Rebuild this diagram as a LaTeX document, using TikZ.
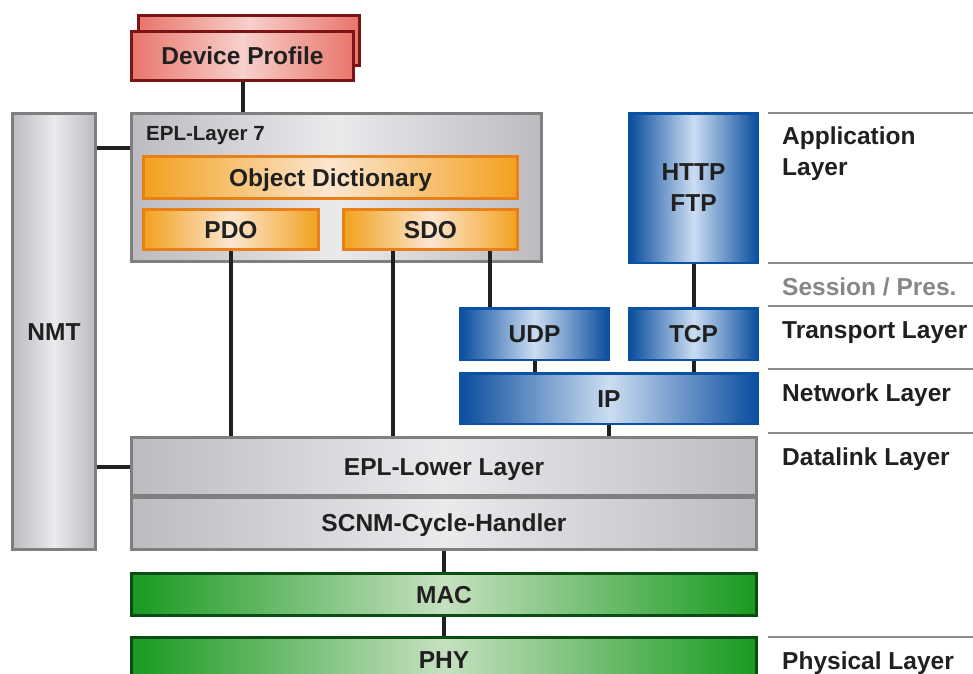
\documentclass[tikz,border=0pt]{standalone}
\usepackage{fontspec}
\setmainfont{Liberation Sans}
\definecolor{ink}{HTML}{202020}
\definecolor{devedge}{HTML}{E8756A}
\definecolor{devmid}{HTML}{F8D0CC}
\definecolor{devline}{HTML}{7B1515}
\definecolor{grayedge}{HTML}{BDBBC0}
\definecolor{graymid}{HTML}{EAE9EC}
\definecolor{grayline}{HTML}{7F7F7F}
\definecolor{oredge}{HTML}{F2A11E}
\definecolor{ormid}{HTML}{FCE6D0}
\definecolor{orline}{HTML}{E8801A}
\definecolor{blueedge}{HTML}{0A4D9E}
\definecolor{bluemid}{HTML}{CCDDF2}
\definecolor{blueline}{HTML}{0A52A3}
\definecolor{greenedge}{HTML}{189A20}
\definecolor{greenmid}{HTML}{C6E0C0}
\definecolor{greenline}{HTML}{0B4D12}
\definecolor{sessgray}{HTML}{878787}
\definecolor{sepgray}{HTML}{8C8C8C}

\begin{document}
\begin{tikzpicture}[x=1pt,y=-1pt,
    every node/.style={inner sep=0pt, text=ink, font=\bfseries\fontsize{24.5}{31}\selectfont},
    capline/.style={text height=17.6pt, text depth=0pt},
    devbox/.style={capline, draw=devline, line width=3pt, left color=devedge, right color=devedge, middle color=devmid},
    graybox/.style={capline, draw=grayline, line width=3pt, left color=grayedge, right color=grayedge, middle color=graymid},
    orbox/.style={capline, draw=orline, line width=3pt, left color=oredge, right color=oredge, middle color=ormid},
    bluebox/.style={draw=blueline, line width=2.5pt, left color=blueedge, right color=blueedge, middle color=bluemid},
    greenbox/.style={capline, draw=greenline, line width=3pt, left color=greenedge, right color=greenedge, middle color=greenmid},
    link/.style={draw=ink, line width=4pt},
    sepline/.style={draw=sepgray, line width=1.5pt},
    lbl/.style={anchor=base west}]
    \clip (0,0) rectangle (973,673);

    % left column
    \node[devbox, minimum width=221, minimum height=50] (DEVB) at (249,40.5) {};
    \node[devbox, minimum width=222, minimum height=49] (DEV) at (242.5,55.5) {Device Profile};
    \node[graybox, minimum width=410, minimum height=148] (L7) at (336.5,187.5) {};
    \node[anchor=base west, font=\bfseries\fontsize{20.5}{24}\selectfont] (L7T) at (146,140) {EPL-Layer 7};
    \node[orbox, minimum width=374, minimum height=42] (OD) at (330.5,177.5) {Object Dictionary};
    \node[orbox, minimum width=175, minimum height=40] (PDO) at (231,229.5) {PDO};
    \node[orbox, minimum width=174, minimum height=40] (SDO) at (430.5,229.5) {SDO};
    \node[graybox, minimum width=83, minimum height=436] (NMT) at (54,331.5) {NMT};

    % IP stack
    \node[bluebox, minimum width=128.5, minimum height=149.5, align=center] (HTTP) at (693.5,188) {HTTP\\FTP};
    \node[bluebox, capline, minimum width=148.5, minimum height=51.5] (UDP) at (534.5,334) {UDP};
    \node[bluebox, capline, minimum width=128.5, minimum height=51.5] (TCP) at (693.5,334) {TCP};
    \node[bluebox, capline, minimum width=297.5, minimum height=50.5] (IP) at (609,398.5) {IP};

    % lower layers
    \node[graybox, minimum width=625, minimum height=58] (LOW) at (444,466.5) {EPL-Lower Layer};
    \node[graybox, minimum width=625, minimum height=52] (SCNM) at (444,523) {SCNM-Cycle-Handler};
    \node[greenbox, minimum width=625, minimum height=42] (MAC) at (444,594.5) {MAC};
    \node[greenbox, minimum width=625, minimum height=46] (PHY) at (444,660) {PHY};

    \coordinate (L7N) at ([yshift=-36pt]L7.north west);
    \coordinate (SDOL) at ([xshift=-37.5pt]SDO.south);
    \coordinate (SDOR) at ([xshift=59.5pt]SDO.south);

    \draw[link] (DEV.south) -- (DEV.south |- L7.north);
    \draw[link] (L7N) -- (L7N -| NMT.east);
    \draw[link] (LOW.west) -- (LOW.west -| NMT.east);
    \draw[link] (PDO.south) -- (PDO.south |- LOW.north);
    \draw[link] (SDOL) -- (SDOL |- LOW.north);
    \draw[link] (SDOR) -- (SDOR |- UDP.north);
    \draw[link] (HTTP) -- (TCP);
    \draw[link] (UDP.south) -- (UDP.south |- IP.north);
    \draw[link] (TCP) -- (IP.north -| TCP);
    \draw[link] (IP.south) -- (IP.south |- LOW.north);
    \draw[link] (SCNM) -- (MAC);
    \draw[link] (MAC) -- (PHY);

    % OSI layer names
    \foreach \y in {113,263,306,369,433,637}
        \draw[sepline] (768,\y) -- (973,\y);
    \node[anchor=north west, align=left] (APP) at (782,127) {Application\\Layer};
    \node[lbl, text=sessgray] (SES) at (782,295) {Session / Pres.};
    \node[lbl] (TRA) at (782,338) {Transport Layer};
    \node[lbl] (NET) at (782,401) {Network Layer};
    \node[lbl] (DLL) at (782,465) {Datalink Layer};
    \node[lbl] (PHL) at (782,669) {Physical Layer};
\end{tikzpicture}
\end{document}
